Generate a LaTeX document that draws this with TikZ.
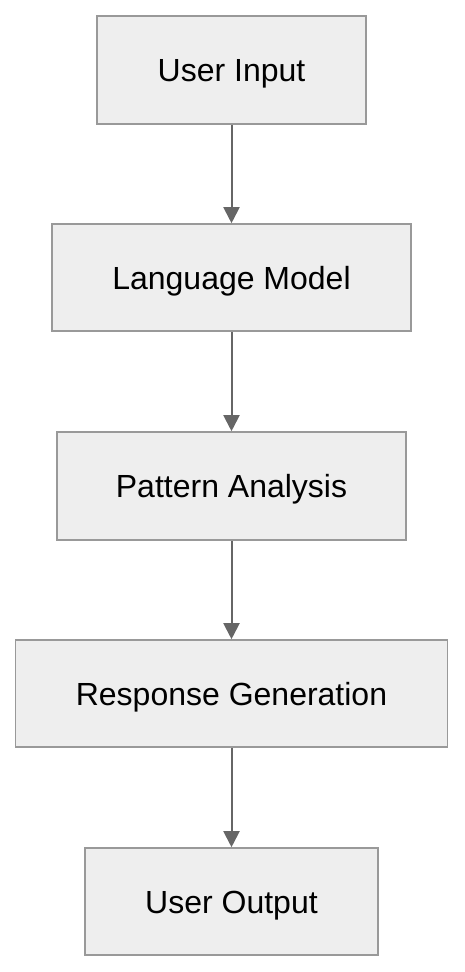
\documentclass[tikz,border=0pt]{standalone}
\usepackage{fontspec}
\setmainfont{Liberation Sans}
\usetikzlibrary{arrows.meta}
\definecolor{boxfill}{HTML}{EEEEEE}
\definecolor{boxline}{HTML}{999999}
\definecolor{arrowc}{HTML}{666666}
\begin{document}
\begin{tikzpicture}[x=1pt,y=-1pt,
  stepbox/.style={draw=boxline, fill=boxfill, line width=1.6pt, font=\fontsize{32}{38}\selectfont, inner sep=0pt, text height=23pt, text depth=0pt, anchor=center},
  flow/.style={draw=arrowc, line width=2pt, -{Triangle[length=16pt,width=16pt]}}]
\useasboundingbox (0,0) rectangle (464,972);
\node[stepbox, minimum width=269pt, minimum height=108pt] (a) at (231.5,70) {User Input};
\node[stepbox, minimum width=359pt, minimum height=107pt] (b) at (231.5,277.5) {Language Model};
\node[stepbox, minimum width=349pt, minimum height=108pt] (c) at (231.5,486) {Pattern Analysis};
\node[stepbox, minimum width=432pt, minimum height=107pt] (d) at (231.5,693.5) {Response Generation};
\node[stepbox, minimum width=293pt, minimum height=107pt] (e) at (231.5,901.5) {User Output};
\draw[flow] (a) -- (b);
\draw[flow] (b) -- (c);
\draw[flow] (c) -- (d);
\draw[flow] (d) -- (e);
\end{tikzpicture}
\end{document}
